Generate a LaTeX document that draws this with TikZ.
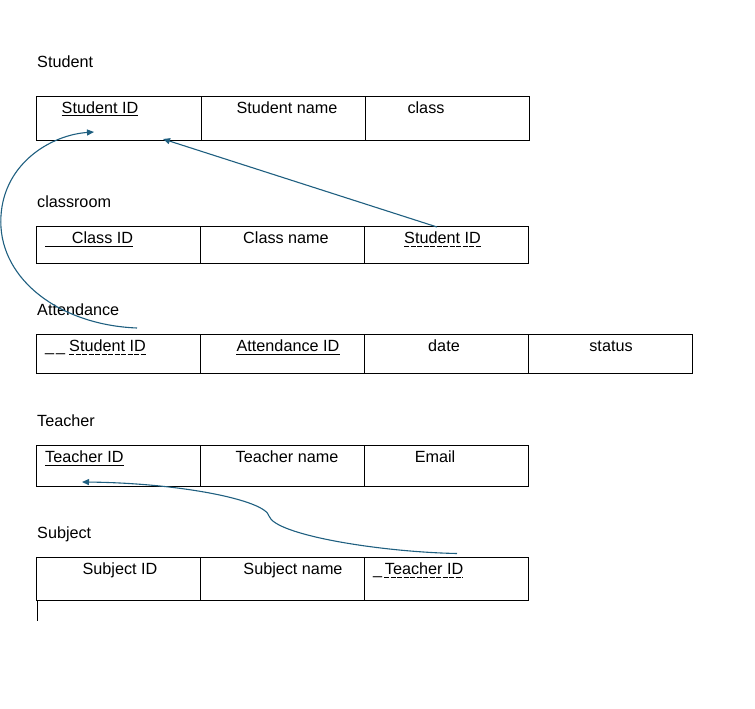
\documentclass[tikz,border=0pt]{standalone}
\usepackage{fontspec}
\setmainfont{Liberation Sans}
\usetikzlibrary{arrows.meta}
\definecolor{arr}{RGB}{31,95,128}
\begin{document}
\begin{tikzpicture}[x=1pt,y=-1pt,
  tbl/.style={draw=black,line width=0.9pt},
  lbl/.style={anchor=base,inner sep=0pt,font=\fontsize{16.2}{19}\selectfont},
  lbll/.style={lbl,anchor=base west},
  ul/.style={line width=0.8pt},
  dul/.style={line width=0.8pt,dash pattern=on 5pt off 1.5pt},
  fk/.style={draw=arr,line width=1.1pt,-{Triangle[length=7pt,width=6pt]}}]
\useasboundingbox (0,0) rectangle (755,709);

% ---------- Student ----------
\node[lbll] (tStudent) at (37,67.5) {Student};
\draw[tbl] (36,96) rectangle (529,140);
\draw[tbl] (201,96) -- (201,140);
\draw[tbl] (365,96) -- (365,140);
\node[lbl] (sid) at (100,113) {Student ID};
\draw[ul] ([yshift=-2.5pt]sid.base west) -- ([yshift=-2.5pt]sid.base east);
\node[lbl] (sname) at (287,113) {Student name};
\node[lbl] (sclass) at (426,113) {class};

% ---------- classroom ----------
\node[lbll] (tClass) at (37,207.5) {classroom};
\draw[tbl] (36,226) rectangle (528,263);
\draw[tbl] (200,226) -- (200,263);
\draw[tbl] (364,226) -- (364,263);
\node[lbl] (cid) at (102.5,243.5) {Class ID};
\coordinate (cidul) at (45,243.5);
\draw[ul] ([yshift=-2.5pt]cidul) -- ([yshift=-2.5pt]cid.base east);
\node[lbl] (cname) at (286,243.5) {Class name};
\node[lbl] (csid) at (442.5,243.5) {Student ID};
\draw[dul] ([yshift=-2.5pt]csid.base west) -- ([yshift=-2.5pt]csid.base east);

% ---------- Attendance ----------
\node[lbll] (tAtt) at (37,315.5) {Attendance};
\draw[tbl] (36,334) rectangle (692,373);
\draw[tbl] (200,334) -- (200,373);
\draw[tbl] (364,334) -- (364,373);
\draw[tbl] (528,334) -- (528,373);
\node[lbll] (asid) at (45,351.5) {\_\hspace{2pt}\_\hspace{4pt}Student ID};
\draw[dul] ([yshift=-2.5pt,xshift=24pt]asid.base west) -- ([yshift=-2.5pt]asid.base east);
\node[lbl] (aid) at (288,351.5) {Attendance ID};
\draw[ul] ([yshift=-2.5pt]aid.base west) -- ([yshift=-2.5pt]aid.base east);
\node[lbl] (adate) at (444,351.5) {date};
\node[lbl] (astatus) at (611,351.5) {status};

% ---------- Teacher ----------
\node[lbll] (tTeach) at (37,426.5) {Teacher};
\draw[tbl] (36,445) rectangle (528,486);
\draw[tbl] (200,445) -- (200,486);
\draw[tbl] (364,445) -- (364,486);
\node[lbll] (tid) at (45,462.5) {Teacher ID};
\draw[ul] ([yshift=-2.5pt]tid.base west) -- ([yshift=-2.5pt]tid.base east);
\node[lbl] (tname) at (287,462.5) {Teacher name};
\node[lbl] (temail) at (435,462.5) {Email};

% ---------- Subject ----------
\node[lbll] (tSubj) at (37,538.5) {Subject};
\draw[tbl] (36,557) rectangle (528,600);
\draw[tbl] (200,557) -- (200,600);
\draw[tbl] (364,557) -- (364,600);
\node[lbl] (subid) at (120,574.5) {Subject ID};
\node[lbl] (subname) at (293,574.5) {Subject name};
\node[lbll] (subtid) at (373,574.5) {\_\,Teacher ID};
\draw[dul] ([yshift=-2.5pt,xshift=11pt]subtid.base west) -- ([yshift=-2.5pt]subtid.base east);
\coordinate (cur1) at (37,600);
\coordinate (cur2) at (37,621);
\draw[line width=0.8pt] (cur1) -- (cur2);

% ---------- connectors ----------
\coordinate (a1s) at (437,227);
\coordinate (a1e) at (163,139);
\draw[fk] (a1s) -- (a1e);

\coordinate (a2s) at (137,328);
\coordinate (a2m) at (0.8,222);
\coordinate (a2e) at (94,132);
\draw[fk] (a2s) .. controls (60,325) and (1,280) .. (a2m)
               .. controls (0.6,165) and (50,135) .. (a2e);

\coordinate (a3s) at (457,553.5);
\coordinate (a3m) at (269,516);
\coordinate (a3e) at (82,482);
\draw[fk] (a3s) .. controls (380,552) and (275,535) .. (a3m)
               .. controls (265,500) and (180,483) .. (a3e);
\end{tikzpicture}
\end{document}
